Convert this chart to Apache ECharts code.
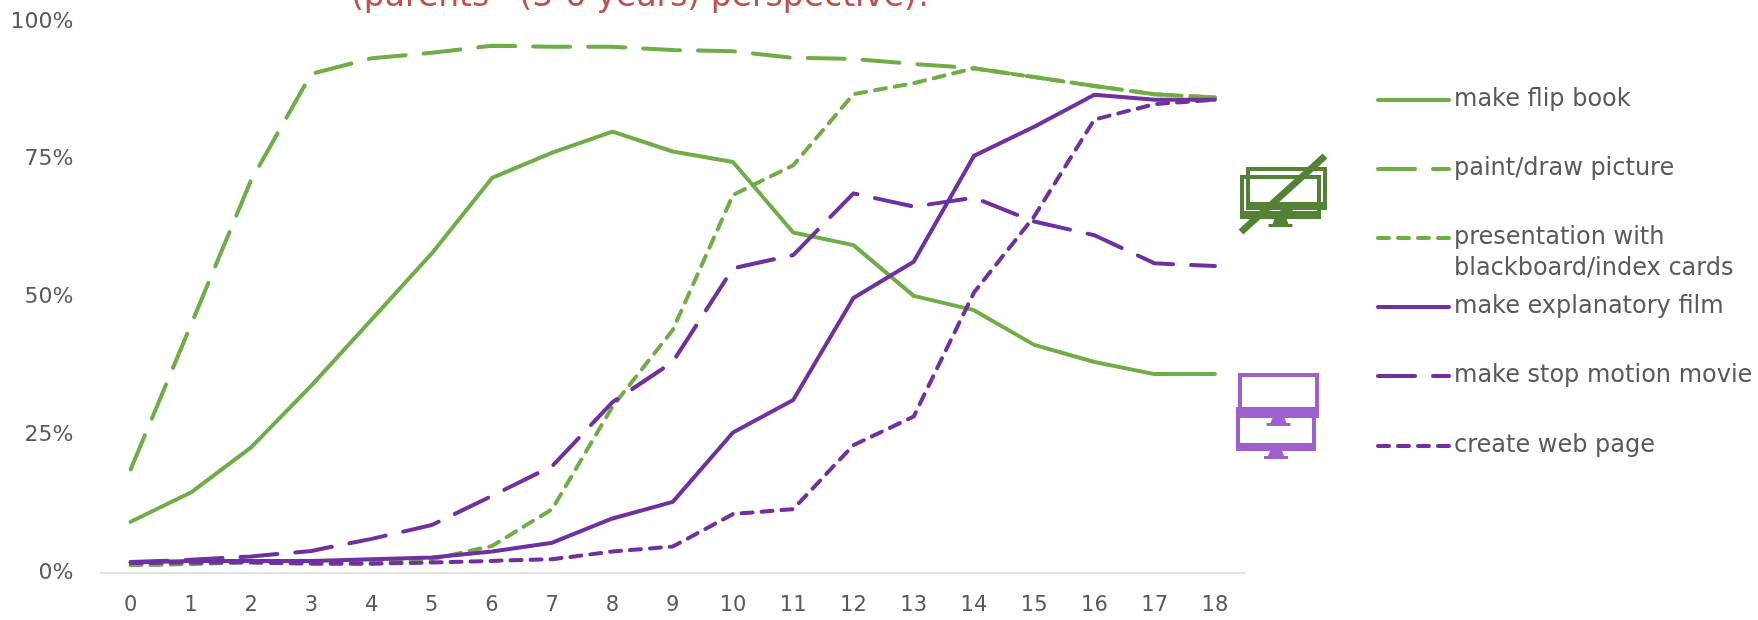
<!DOCTYPE html>
<html>
<head>
<meta charset="utf-8">
<style>html,body{margin:0;padding:0;background:#fff}#c{width:1758px;height:620px}</style>
<script src="https://cdn.jsdelivr.net/npm/echarts@6/dist/echarts.min.js"></script>
</head>
<body>
<div id="c"></div>
<script>
const ages = ['0','1','2','3','4','5','6','7','8','9','10','11','12','13','14','15','16','17','18'];
const flipBook = [9.3,14.6,22.8,34,46,58,71.7,76.3,80.1,76.5,74.6,61.8,59.5,50.3,47.7,41.4,38.3,36.1,36.1];
const paintDraw = [18.8,45,71.3,90.6,93.4,94.4,95.7,95.5,95.5,94.9,94.7,93.5,93.3,92.4,91.6,90,88.4,86.9,86.3];
const presentation = [1.4,1.6,2,2,2.2,2.5,4.9,11.6,30.2,44.1,68.6,74,86.9,88.9,91.6,90,88.4,86.9,86.3];
const explanatoryFilm = [1.9,2.2,2.2,2.2,2.5,2.8,3.9,5.5,9.9,12.9,25.5,31.4,49.9,56.5,75.7,81,86.8,85.9,85.9];
const stopMotion = [2,2.4,3,4,6.2,8.7,14,19.4,31,38.3,55.3,57.7,68.9,66.5,68.1,63.8,61.3,56.2,55.7];
const webPage = [1.8,1.9,1.9,1.7,1.7,1.9,2.2,2.5,3.9,4.8,10.7,11.6,23.2,28.4,50.9,64.7,82.3,85.1,85.9];
const yTicks = [0,25,50,75,100];

const GREEN = '#70AD47', PURPLE = '#7030A0', TEXT = '#595959';
const FONT = '"DejaVu Sans", "Noto Sans", sans-serif';
const LONG_DASH = [37,18], SHORT_DASH = [11,9];
const LEGEND_LINE = 31;

const seriesDefs = [
  {name:'make flip book', data:flipBook, color:GREEN, type:'solid', rowY:100},
  {name:'paint/draw picture', data:paintDraw, color:GREEN, type:LONG_DASH, rowY:169},
  {name:'presentation with blackboard/index cards', data:presentation, color:GREEN, type:SHORT_DASH, rowY:238, label:'\npresentation with\nblackboard/index cards'},
  {name:'make explanatory film', data:explanatoryFilm, color:PURPLE, type:'solid', rowY:307},
  {name:'make stop motion movie', data:stopMotion, color:PURPLE, type:LONG_DASH, rowY:376},
  {name:'create web page', data:webPage, color:PURPLE, type:SHORT_DASH, rowY:446}
];

// Desktop monitor pictogram: framed screen, thick lower bezel, foot.
function monitor(x, y, w, h, color, bezel) {
  const cx = w / 2;
  return {
    type:'group', x, y,
    children:[
      {type:'rect', shape:{x:2,y:2,width:w-4,height:h-4}, style:{fill:'none',stroke:color,lineWidth:4}},
      {type:'rect', shape:{x:0,y:h-bezel,width:w,height:bezel,r:1}, style:{fill:color}},
      {type:'polygon', shape:{points:[[cx-6,h],[cx+6,h],[cx+8,h+5],[cx+12,h+5],[cx+12,h+8],[cx-12,h+8],[cx-12,h+5],[cx-8,h+5]]}, style:{fill:color}}
    ]
  };
}

const ICON_DARK = '#548235', ICON_LIGHT = '#9E5FCF';

const chart = echarts.init(document.getElementById('c'));
chart.setOption({
  animation:false,
  backgroundColor:'#fff',
  textStyle:{fontFamily:FONT},
  grid:{left:100.5,right:513,top:22,bottom:47,containLabel:false},
  xAxis:{
    type:'category', data:ages, boundaryGap:true,
    axisLine:{lineStyle:{color:'#D9D9D9',width:1.5}}, axisTick:{show:false},
    axisLabel:{color:TEXT,fontSize:21,margin:22,fontFamily:FONT}
  },
  yAxis:{
    type:'value', min:0, max:100, interval:25,
    splitLine:{show:false}, axisLine:{show:false}, axisTick:{show:false},
    axisLabel:{color:TEXT,fontSize:22,margin:27,fontFamily:FONT,padding:[3,0,0,0],formatter:v=>yTicks.includes(v)?v+'%':''}
  },
  legend:seriesDefs.map(s=>{
    const lines = s.label ? s.label.split('\n').length : 1;
    return {
      data:[s.name], left:1376, top:s.rowY - lines*LEGEND_LINE/2, orient:'vertical',
      itemWidth:71, itemHeight:14, itemGap:0, padding:0,
      itemStyle:{opacity:0},
      lineStyle:{width:4,cap:'round',type:s.type,color:s.color},
      textStyle:{color:TEXT,fontSize:24,fontFamily:FONT,lineHeight:LEGEND_LINE},
      formatter:()=>s.label||s.name
    };
  }),
  series:seriesDefs.map(s=>({
    name:s.name, type:'line', data:s.data, symbol:'none', showSymbol:false, smooth:false,
    lineStyle:{color:s.color,width:4,type:s.type,cap:'round',join:'round'},
    itemStyle:{color:s.color}
  })),
  graphic:[
    {type:'text', x:351, y:-19, silent:true,
     style:{text:"(parents'  (3-6 years) perspective)!",fill:'#C0504D',fontSize:33,fontFamily:FONT}},
    monitor(1246,167,81,43,ICON_DARK,8),
    monitor(1240,175,81,44,ICON_DARK,8),
    {type:'line', shape:{x1:1241,y1:232,x2:1325,y2:156}, style:{stroke:ICON_DARK,lineWidth:7}},
    monitor(1238,373,81,45,ICON_LIGHT,11),
    monitor(1236,407,80,44,ICON_LIGHT,8)
  ]
});
</script>
</body>
</html>
